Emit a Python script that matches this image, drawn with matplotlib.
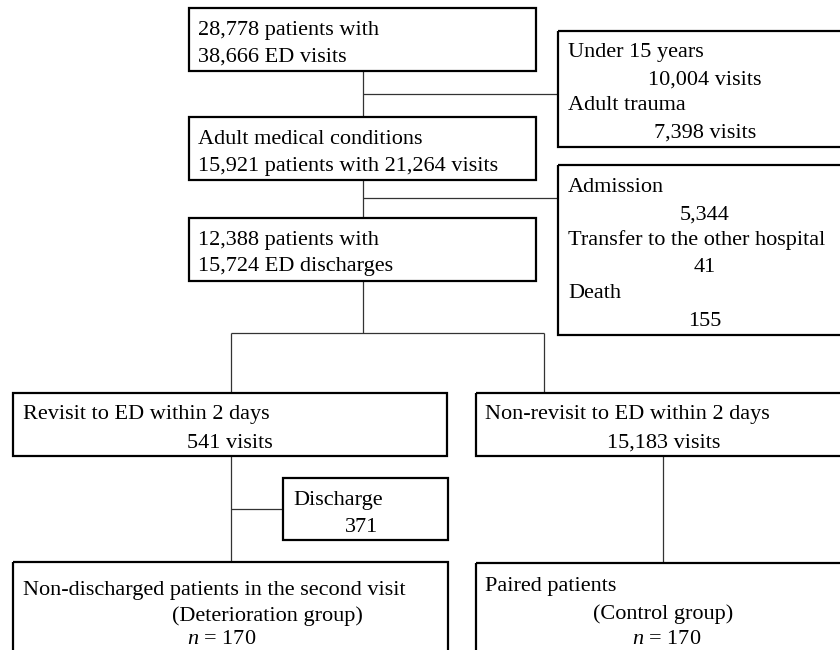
import matplotlib.pyplot as plt
from matplotlib.patches import Rectangle

plt.rcParams['font.family'] = ['Liberation Serif', 'DejaVu Serif']
plt.rcParams['mathtext.fontset'] = 'custom'
plt.rcParams['mathtext.rm'] = 'Liberation Serif'
plt.rcParams['mathtext.it'] = 'Liberation Serif:italic'

# flow counts
total_patients = "28,778"
total_visits = "38,666"
under15_visits = "10,004"
trauma_visits = "7,398"
medical_patients = "15,921"
medical_visits = "21,264"
admission = "5,344"
transfer = "41"
death = "155"
disch_patients = "12,388"
disch_visits = "15,724"
revisit_visits = "541"
nonrevisit_visits = "15,183"
discharge_second = "371"
group_n = "170"

FS = 16
BOX_LW = 1.6
LINE_LW = 0.9
LINE_C = '#333333'
DY = 2  # small nudge so text sits like the original

fig = plt.figure(figsize=(8.4, 6.5), dpi=100)
ax = fig.add_axes([0, 0, 1, 1])
ax.set_xlim(0, 840)
ax.set_ylim(650, 0)
ax.axis('off')


def box(x0, y0, x1, y1):
    ax.add_patch(Rectangle((x0, y0), x1 - x0, y1 - y0, fill=False,
                           edgecolor='black', linewidth=BOX_LW, zorder=3))


def line(xs, ys):
    ax.plot(xs, ys, color=LINE_C, linewidth=LINE_LW, zorder=2,
            solid_capstyle='butt')


def txt(x, y, s, ha='left'):
    ax.text(x, y + DY, s, fontsize=FS, ha=ha, va='center', zorder=4)


# main column
box(189, 8, 536, 71)
txt(198, 29, f"{total_patients} patients with")
txt(198, 55, f"{total_visits} ED visits")

box(189, 117, 536, 180)
txt(198, 138, "Adult medical conditions")
txt(198, 164, f"{medical_patients} patients with {medical_visits} visits")

box(189, 218, 536, 281)
txt(198, 239, f"{disch_patients} patients with")
txt(198, 265, f"{disch_visits} ED discharges")

line([363, 363], [71, 117])
line([363, 558], [94, 94])
line([363, 363], [180, 218])
line([363, 558], [198, 198])

# exclusion boxes (run off right edge)
box(558, 31, 860, 147)
txt(568, 50, "Under 15 years")
txt(705, 78, f"{under15_visits} visits", 'center')
txt(568, 104, "Adult trauma")
txt(705, 131, f"{trauma_visits} visits", 'center')

box(558, 165, 860, 335)
txt(568, 185, "Admission")
txt(705, 213, admission, 'center')
txt(568, 238, "Transfer to the other hospital")
txt(705, 266, transfer, 'center')
txt(568, 292, "Death")
txt(705, 319, death, 'center')

# split
line([363, 363], [281, 333])
line([231, 544], [333, 333])
line([231, 231], [333, 393])
line([544, 544], [333, 393])

box(13, 393, 447, 456)
txt(23, 413, "Revisit to ED within 2 days")
txt(230, 441, f"{revisit_visits} visits", 'center')

box(476, 393, 860, 456)
txt(485, 413, "Non-revisit to ED within 2 days")
txt(664, 441, f"{nonrevisit_visits} visits", 'center')

# second visit
line([231, 231], [456, 562])
line([231, 283], [509, 509])
box(283, 478, 448, 540)
txt(293, 499, "Discharge")
txt(362, 526, discharge_second, 'center')

line([663, 663], [456, 563])

# final groups (run off bottom edge)
box(13, 562, 448, 700)
txt(23, 588, "Non-discharged patients in the second visit")
txt(267, 614, "(Deterioration group)", 'center')
txt(222, 638, f"$n$ = {group_n}", 'center')

box(476, 563, 860, 700)
txt(485, 584, "Paired patients")
txt(663, 612, "(Control group)", 'center')
txt(667, 638, f"$n$ = {group_n}", 'center')

fig.savefig('out.png', dpi=100)
